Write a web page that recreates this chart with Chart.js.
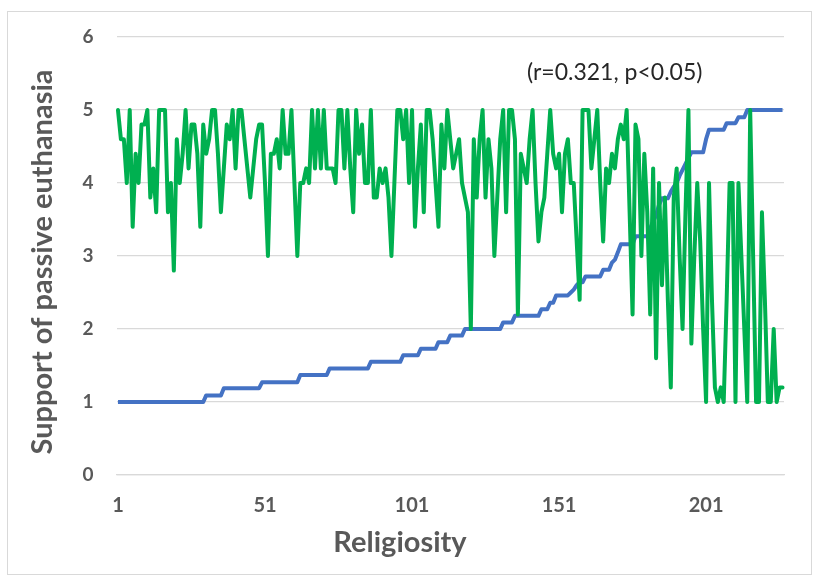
<!DOCTYPE html>
<html>
<head>
<meta charset="utf-8">
<script src="https://cdn.jsdelivr.net/npm/chart.js@4.4.1/dist/chart.umd.min.js"></script>
<style>
  html, body { margin: 0; padding: 0; background: #fff; }
  #wrap { position: relative; width: 818px; height: 581px; }
  #frame { position: absolute; left: 7px; top: 11px; width: 805px; height: 564px; border: 1px solid #d9d9d9; box-sizing: border-box; }
  canvas { position: absolute; left: 0; top: 0; }
</style>
</head>
<body>
<div id="wrap">
  <div id="frame"></div>
  <canvas id="chart" width="818" height="581"></canvas>
</div>
<script>
// support of passive euthanasia, one value per respondent (green)
const supportValues = [
  5, 4.6, 4.6, 4, 5, 3.4, 4.4, 4, 4.8, 4.8,
  5, 3.8, 4.2, 3.6, 5, 5, 5, 3.6, 4, 2.8,
  4.6, 4, 4.4, 5, 4.2, 4.8, 4.8, 4.4, 3.4, 4.8,
  4.4, 4.6, 5, 5, 4.4, 3.6, 4.2, 4.8, 4.6, 5,
  4.2, 5, 5, 4.6, 4.2, 3.8, 4.2, 4.6, 4.8, 4.8,
  4, 3, 4.4, 4.4, 4.6, 4.2, 5, 4.4, 4.4, 5,
  4, 3, 4, 4, 4.2, 4, 5, 4.2, 5, 4.2,
  5, 4.2, 4.2, 4.2, 4, 5, 5, 4.2, 5, 4.2,
  3.6, 5, 4.4, 4.8, 4, 4, 5, 3.8, 3.8, 4.2,
  4, 4.2, 3.8, 3, 4, 5, 5, 4.6, 5, 4,
  5, 3.4, 4.2, 4.8, 3.6, 5, 5, 4.6, 4, 3.4,
  4.8, 4.2, 5, 4.6, 4.2, 4.4, 4.6, 4, 3.8, 3.6,
  2, 4.6, 3.8, 4.6, 5, 3.8, 4.6, 4.2, 3, 3.8,
  4.6, 5, 3.6, 5, 5, 4.6, 2.2, 4.4, 4.2, 4,
  4.6, 5, 4, 3.2, 3.6, 3.8, 4.4, 5, 4.4, 4.2,
  4.4, 3.6, 4.4, 4.6, 4, 4, 3.2, 2.4, 5, 5,
  5, 4.2, 4.6, 5, 4, 3.2, 4.2, 4, 4.4, 4.2,
  4.6, 4.8, 4.6, 5, 3.6, 2.2, 4.8, 4.6, 3, 4.4,
  3.6, 2.2, 4.2, 1.6, 4, 2.6, 3.8, 2.4, 1.2, 3.8,
  4.2, 3, 2, 3.6, 5, 1.8, 3, 4, 3.2, 2,
  1, 4, 2.4, 1.2, 1, 1.2, 1, 2.4, 4, 4,
  1, 4, 3, 2, 1, 5, 3, 1, 1, 3.6,
  2.4, 1, 1, 2, 1, 1.2, 1.2
];

// religiosity score, sorted (blue)
const religiosityValues = [
  1, 1, 1, 1, 1, 1, 1, 1, 1, 1,
  1, 1, 1, 1, 1, 1, 1, 1, 1, 1,
  1, 1, 1, 1, 1, 1, 1, 1, 1, 1,
  1.09, 1.09, 1.09, 1.09, 1.09, 1.09, 1.19, 1.19, 1.19, 1.19,
  1.19, 1.19, 1.19, 1.19, 1.19, 1.19, 1.19, 1.19, 1.19, 1.27,
  1.27, 1.27, 1.27, 1.27, 1.27, 1.27, 1.27, 1.27, 1.27, 1.27,
  1.27, 1.27, 1.37, 1.37, 1.37, 1.37, 1.37, 1.37, 1.37, 1.37,
  1.37, 1.37, 1.46, 1.46, 1.46, 1.46, 1.46, 1.46, 1.46, 1.46,
  1.46, 1.46, 1.46, 1.46, 1.46, 1.46, 1.55, 1.55, 1.55, 1.55,
  1.55, 1.55, 1.55, 1.55, 1.55, 1.55, 1.55, 1.64, 1.64, 1.64,
  1.64, 1.64, 1.64, 1.73, 1.73, 1.73, 1.73, 1.73, 1.73, 1.82,
  1.82, 1.82, 1.82, 1.91, 1.91, 1.91, 1.91, 1.91, 2, 2,
  2, 2, 2, 2, 2, 2, 2, 2, 2, 2,
  2, 2.09, 2.09, 2.09, 2.09, 2.18, 2.18, 2.18, 2.18, 2.18,
  2.18, 2.18, 2.18, 2.18, 2.27, 2.27, 2.27, 2.36, 2.36, 2.46,
  2.46, 2.46, 2.46, 2.46, 2.5, 2.54, 2.6, 2.64, 2.64, 2.72,
  2.72, 2.72, 2.72, 2.72, 2.72, 2.81, 2.81, 2.81, 2.91, 2.95,
  3.05, 3.16, 3.16, 3.16, 3.16, 3.16, 3.27, 3.27, 3.27, 3.27,
  3.27, 3.38, 3.47, 3.56, 3.7, 3.79, 3.79, 3.79, 3.88, 3.95,
  4, 4.1, 4.18, 4.26, 4.34, 4.42, 4.42, 4.42, 4.42, 4.42,
  4.6, 4.73, 4.73, 4.73, 4.73, 4.73, 4.73, 4.82, 4.82, 4.82,
  4.82, 4.9, 4.9, 4.9, 5, 5, 5, 5, 5, 5,
  5, 5, 5, 5, 5, 5, 5
];

const categories = supportValues.map((_, i) => String(i + 1));
const xTickLabels = ["1", "51", "101", "151", "201"];
const yTitle = "Support of passive euthanasia";
const xTitle = "Religiosity";
const note = "(r=0.321, p<0.05)";

const textPlugin = {
  id: "chartTexts",
  afterDraw(chart) {
    const ctx = chart.ctx;
    ctx.save();
    ctx.fillStyle = "#595959";
    ctx.textAlign = "center";
    ctx.textBaseline = "middle";
    ctx.font = "bold 29px Lato";
    ctx.fillText(xTitle, 400, 543);
    ctx.save();
    ctx.translate(43, 262);
    ctx.rotate(-Math.PI / 2);
    ctx.fillText(yTitle, 0, 0);
    ctx.restore();
    ctx.fillStyle = "#262626";
    ctx.font = "23px Lato";
    ctx.textAlign = "left";
    ctx.fillText(note, 527, 73);
    ctx.restore();
  },
};

new Chart(document.getElementById("chart"), {
  type: "line",
  data: {
    labels: categories,
    datasets: [
      { label: "Support", data: supportValues, borderColor: "#00b050", borderWidth: 4, pointRadius: 0, tension: 0, borderJoinStyle: "round", borderCapStyle: "round" },
      { label: "Religiosity", data: religiosityValues, borderColor: "#4472c4", borderWidth: 4, pointRadius: 0, tension: 0, borderJoinStyle: "round" },
    ],
  },
  options: {
    responsive: false,
    animation: false,
    devicePixelRatio: 1,
    layout: { padding: { top: 37, right: 34, left: 0, bottom: 0 } },
    plugins: { legend: { display: false }, tooltip: { enabled: false } },
    scales: {
      x: {
        type: "category",
        offset: true,
        grid: { display: false },
        border: { color: "#d9d9d9", width: 1.3 },
        ticks: {
          autoSkip: false,
          maxRotation: 0,
          padding: 11,
          color: "#595959",
          font: { family: "Lato", weight: "bold", size: 20 },
          callback: (v, i) => (xTickLabels.includes(categories[i]) ? categories[i] : ""),
        },
        afterFit: (s) => { s.height = 106; },
      },
      y: {
        min: 0,
        max: 6,
        ticks: { stepSize: 1, padding: 23, color: "#595959", font: { family: "Lato", weight: "bold", size: 19 } },
        grid: { color: "#d9d9d9", lineWidth: 1.3, drawTicks: false },
        border: { display: false },
        afterFit: (s) => { s.width = 116.5; },
      },
    },
  },
  plugins: [textPlugin],
});
</script>
</body>
</html>
